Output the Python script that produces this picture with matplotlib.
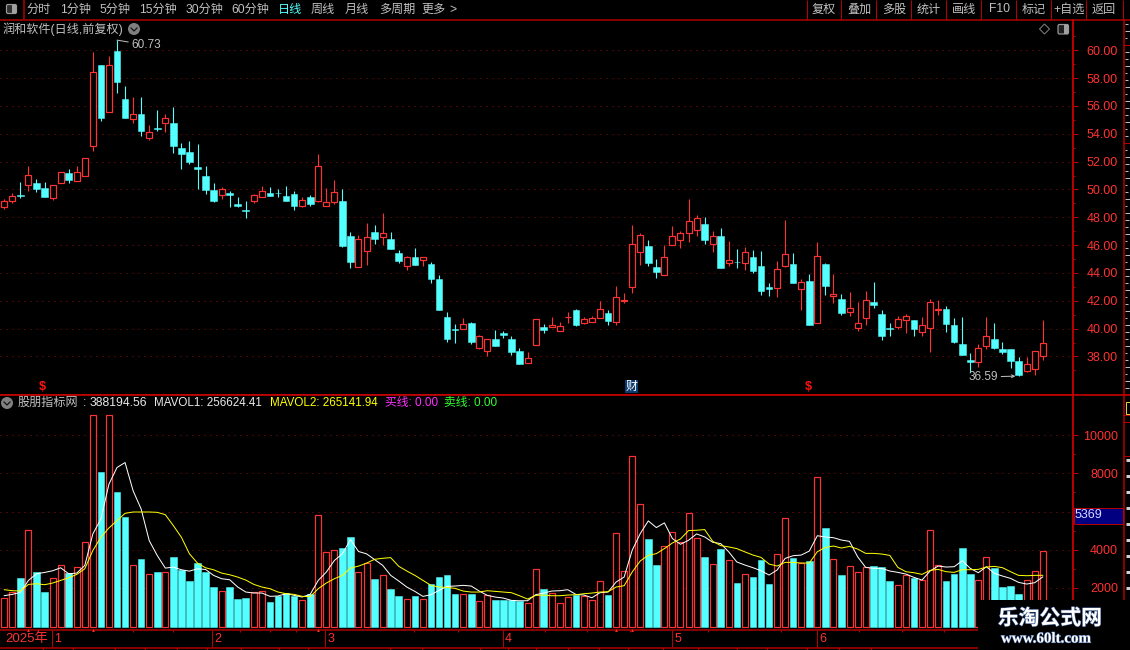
import matplotlib
matplotlib.use("Agg")
import matplotlib.pyplot as plt
import matplotlib.patheffects as pe
from matplotlib.patches import Rectangle, Circle, FancyBboxPatch, Polygon
from matplotlib.transforms import blended_transform_factory

plt.rcParams['font.family'] = ['Liberation Sans', 'Noto Sans CJK SC', 'DejaVu Sans']

opens = [48.72,49.2,49.6,50.35,50.47,50.11,49.42,50.45,51.19,50.64,
 50.95,53.1,58.95,55.6,59.95,56.5,55.09,55.43,53.73,54.42,
 54.8,54.78,52.98,52.7,51.62,50.97,49.97,49.58,49.78,48.97,
 48.55,49.2,49.44,49.75,49.78,49.54,49.68,48.84,49.46,49.2,
 48.84,49.13,49.17,46.66,44.46,45.56,46.97,46.56,46.47,45.46,
 44.48,45.17,44.9,44.67,43.6,40.86,40,39.98,40.43,38.64,
 38.42,39.28,39.67,39.28,38.42,37.51,38.8,40.15,40.15,39.86,
 40.82,41.37,40.43,40.46,40.79,41.15,40.46,41.97,42.97,45.49,
 45.96,44.46,43.83,46,46.35,46.85,47.07,47.55,46.06,46.68,
 44.7,44.82,44.72,45.17,44.53,43.02,42.9,44.48,44.67,42.83,
 43.45,40.38,44.67,42.33,42.16,41.22,40.02,40.74,41.94,41.08,
 40.07,40.14,40.6,40.6,39.76,40.02,41.32,41.44,40.29,38.93,
 37.78,37.62,38.74,39.28,38.55,38.57,37.71,36.95,37.08,38.02]
highs = [49.3,49.73,50.55,51.69,50.76,50.55,50.35,51.24,51.47,51.69,
 52.24,59.88,58.95,59.6,60.73,57.41,56.62,56.62,54.61,55.69,
 55.43,55.9,53.32,53.49,53.27,51.69,50.47,50.16,49.9,49.46,
 49.18,49.68,50.25,50.18,50.04,50.25,49.9,49.49,49.58,52.55,
 50.09,50.68,50.04,46.95,46.73,47.62,47.45,48.31,46.97,45.65,
 45.22,45.8,45.15,44.8,43.88,41.22,40.3,40.8,40.5,39.57,
 39.28,39.93,39.86,39.5,38.64,38.35,40.7,40.36,40.86,40.5,
 41.22,41.44,40.86,40.93,42,41.37,43.1,42.59,47.47,46.87,
 46.4,45.03,46.04,47.4,47.04,49.34,48.19,48.05,47.04,47.26,
 46.32,45.75,45.89,45.68,45.6,43.3,44.89,47.83,45.46,43.6,
 43.95,46.25,44.74,43.95,42.52,42.66,41.94,42.73,43.38,41.37,
 40.43,40.93,41.08,40.6,40.81,42.1,42.05,41.6,40.79,40.86,
 38.28,38.93,40.86,40.43,39.07,38.57,37.93,37.93,38.42,40.6]
lows = [48.58,49.06,49.4,49.92,49.85,49.49,49.27,50.45,50.49,50.64,
 50.95,52.79,54.95,55.6,56.96,55.14,54.8,53.85,53.58,54.18,
 54.1,52.65,51.5,51.83,50.01,49.68,49.1,49.32,48.75,48.72,
 47.95,49.06,49.44,49.56,49.46,49.18,48.53,48.75,48.84,49.1,
 48.84,48.96,45.89,44.36,44.46,44.6,46.1,46,45.75,44.74,
 44.2,44.6,44.53,43.3,41.37,39.07,39,39.98,38.92,38.56,
 38,38.78,39.35,38.13,37.49,37.51,38.8,39.71,40.15,39.86,
 40.43,40.22,40.36,40.46,40.79,40.29,40.29,41.87,42.59,44.6,
 44.53,43.67,43.83,46,45.82,46.25,46.68,46.1,45.53,44.38,
 44.53,44.38,44.24,44.02,42.44,42.37,42.3,44.41,43.3,41.37,
 40.29,40.38,42.44,41.87,41,40.93,39.86,40.29,41.51,39.21,
 39.5,40,39.71,39.5,39.5,38.35,41,39.79,39,38.14,
 36.92,37.28,38.57,38.57,38.2,37.14,36.59,36.87,36.7,37.78]
closes = [49.15,49.51,49.52,51.02,50,49.49,50.35,51.24,50.68,51.24,
 52.24,58.42,55.16,58.92,57.73,55.14,55.4,54.23,54.11,54.35,
 55.11,53.13,52.55,51.98,51.47,49.97,49.18,50.01,49.63,48.82,
 48.48,49.58,49.87,49.56,49.72,49.18,48.82,49.22,48.96,51.67,
 49.08,49.8,45.96,44.79,46.42,46.59,46.47,46.87,45.75,44.89,
 45.15,44.6,45.12,43.6,41.37,39.28,39.93,40.34,39.07,39.5,
 39.28,38.78,39.57,38.35,37.49,37.92,40.7,39.93,40.29,40.22,
 40.87,40.29,40.7,40.77,41.41,40.58,42.28,42.09,46.08,46.73,
 44.74,44.1,45.15,46.66,46.87,47.74,47.95,46.4,46.66,44.38,
 44.96,44.77,45.51,44.17,42.73,42.87,44.29,45.37,43.3,43.35,
 40.29,45.22,43.09,42.52,41.15,41.49,40.41,42.06,41.72,39.5,
 39.98,40.7,40.91,40,40.29,41.92,41.38,40.36,39.07,38.14,
 37.59,38.62,39.48,38.64,38.33,37.71,36.7,37.47,38.4,39]
volumes = [1477,1790,2488,5033,2802,1756,2523,3203,2750,3098,
 4405,11060,8083,11060,7037,5730,3203,3481,2732,2802,
 2837,3638,2941,2331,3272,2802,2017,1843,2017,1390,
 1442,1790,1843,1233,1582,1738,1582,1372,1686,5817,
 3882,3987,4109,4684,2837,3307,2439,2684,1912,1544,
 1421,1544,1421,2175,2544,2649,1649,1684,1649,1316,
 1597,1333,1333,1368,1281,1211,3000,1912,1737,1211,
 1526,1614,1579,1368,2368,1597,4894,2895,8893,6368,
 4543,3175,4210,4947,4403,5947,4631,3596,3263,4017,
 3473,2228,2737,2560,3470,2192,3750,5640,3557,3277,
 3400,7792,5132,3487,2665,3120,2805,3085,3137,3085,
 2350,2122,2665,2507,2385,5010,3172,2350,2717,4082,
 2717,2385,3592,3032,2035,2087,1667,2385,2857,3907]
mavol1 = [1582,1651,1756,2383,2732,2802,2889,3046,2732,2767,
 3168,4824,5608,7438,8310,8571,7090,6131,4475,3690,
 3029,3080,2941,2871,2993,2959,2645,2471,2418,2035,
 1773,1721,1721,1547,1564,1686,1599,1512,1651,2383,
 2819,3429,3778,4527,3900,3778,3473,3175,2649,2351,
 2035,1807,1544,1632,1860,2070,2088,2123,2088,1825,
 1597,1509,1456,1333,1316,1316,1632,1719,1825,1842,
 1895,1649,1614,1474,1737,1772,2298,2561,3965,4841,
 5508,5157,5403,4578,4280,4491,4824,4666,4385,4315,
 3877,3350,3190,3050,2892,2665,2927,3540,3680,3715,
 3925,4730,4660,4625,4502,4432,3627,3067,3015,3015,
 2875,2805,2717,2542,2402,2875,3137,3085,3102,3417,
 3015,2787,3102,2752,2612,2490,2280,2192,2262,2566]
mavol2 = [1895,1843,1826,2174,2209,2157,2244,2383,2523,2697,
 2994,3952,4649,5137,5520,5904,5974,5974,5974,5957,
 5834,5259,4649,3778,3290,3046,2941,2767,2680,2558,
 2401,2174,2035,1948,1773,1686,1651,1547,1529,1948,
 2244,2471,2645,3029,3133,3290,3491,3544,3579,3123,
 2877,2649,2386,2123,2035,2017,1965,1825,1772,1772,
 1842,1807,1772,1737,1579,1404,1597,1614,1579,1579,
 1614,1632,1684,1719,1772,1789,2035,2105,2824,3403,
 3701,3789,4052,4350,4561,4999,5017,5052,4438,4210,
 4140,4052,3880,3715,3592,3242,3137,3330,3330,3295,
 3295,3890,4117,4187,4082,4170,4030,3802,3802,3767,
 3697,3067,2840,2787,2700,2910,2962,2840,2805,2945,
 2945,2962,3085,3120,3050,2840,2647,2630,2647,2651]

price_ticks = [38,40,42,44,46,48,50,52,54,56,58,60]
price_minor = [37,39,41,43,45,47,49,51,53,55,57,59,61]
vol_ticks = [2000,4000,6000,8000,10000]
vol_tick_labels = ['2000','4000','','8000','10000']
vol_minor = [3000,5000,7000,9000]
month_labels = ['1','2','3','4','5','6']
month_pos = [5.9,25.8,39.9,61.9,83.0,101.0]
week_pos = [16,20.9,29.3,33,36.2,50.9,56.4,67.2,72.4,77.7,87.4,96.5,106.2,111.5,116.7]
flag_pos = [3,11,39,76,78]

W, H = 1130, 650
DPI = 100
BG = '#000000'
RED = '#ff3232'
CYAN = '#54ffff'
LINE = '#b40000'
GRID = '#8c1010'
GREY = '#c0c0c0'
PX = 72 / DPI

fig = plt.figure(figsize=(W / DPI, H / DPI), dpi=DPI, facecolor=BG)

def make_axes(x0, y0, x1, y1):
    return fig.add_axes([x0 / W, 1 - y1 / H, (x1 - x0) / W, (y1 - y0) / H])

# ---- price panel
ax = make_axes(0, 19.5, 1073, 394.5)
vol = make_axes(0, 394.5, 1073, 630)
xlim = (-4.3 / 8.05, (1073 - 4.3) / 8.05)

for a in (ax, vol):
    a.set_facecolor(BG)
    a.set_xlim(*xlim)
    a.yaxis.tick_right()
    for s in ('left', 'top'):
        a.spines[s].set_visible(False)
    a.spines['right'].set_color(LINE)
    a.spines['right'].set_linewidth(2 * PX)
    a.spines['bottom'].set_color(LINE)
    a.spines['bottom'].set_linewidth(1.5 * PX)
    a.set_axisbelow(True)

ax.set_ylim(35.27, 62.21)
ax.set_yticks(price_ticks, [f'{v:.2f}' for v in price_ticks])
ax.set_yticks(price_minor, minor=True)
ax.set_xticks([])
vol.set_ylim(-220, 12142)
vol.set_yticks(vol_ticks, vol_tick_labels)
vol.set_yticks(vol_minor, minor=True)
vol.set_xticks(week_pos, [''] * len(week_pos))
vol.set_xticks(month_pos, minor=True)

for a in (ax, vol):
    a.tick_params(axis='y', which='major', length=4.7 * PX, width=1 * PX, color=LINE,
                  labelcolor=RED, labelsize=9, pad=29, labelright=True)
    a.tick_params(axis='y', which='minor', length=2.4 * PX, width=1 * PX, color=LINE)
    for t in a.get_yticklabels():
        t.set_ha('right')
    a.grid(axis='y', which='major', color=GRID, linewidth=1 * PX, linestyle=(0, (1, 5)))
vol.tick_params(axis='x', which='major', length=2.5 * PX, width=1 * PX, color=LINE)
vol.tick_params(axis='x', which='minor', length=17 * PX, width=1 * PX, color=LINE)
vol.xaxis.grid(False)

# ---- candles
for i, (o, h, l, c) in enumerate(zip(opens, highs, lows, closes)):
    up = c >= o
    col = RED if up else CYAN
    ax.vlines(i, l, h, color=col, linewidth=1.1 * PX, zorder=2).set_snap(True)
    low_b, high_b = min(o, c), max(o, c)
    if up:
        ax.bar(i, high_b - low_b, bottom=low_b, width=6 / 8.05, facecolor=BG,
               edgecolor=col, linewidth=1.2 * PX, zorder=3, snap=True)
    else:
        ax.bar(i, high_b - low_b, bottom=low_b, width=6.6 / 8.05, facecolor=col,
               edgecolor=col, linewidth=0.5 * PX, zorder=3, snap=True)

# ---- volume bars
VOL_FLOOR = -60
for i, v in enumerate(volumes):
    up = closes[i] >= opens[i]
    if up:
        vol.bar(i, v - VOL_FLOOR, bottom=VOL_FLOOR, width=6 / 8.05, facecolor=BG,
                edgecolor=RED, linewidth=1.2 * PX, zorder=3, snap=True)
    else:
        vol.bar(i, v - VOL_FLOOR, bottom=VOL_FLOOR, width=6.6 / 8.05, facecolor=CYAN,
                edgecolor=CYAN, linewidth=0.5 * PX, zorder=3, snap=True)
xs = list(range(len(mavol1)))
vol.plot(xs, mavol1, color='#ffffff', linewidth=1 * PX, zorder=4)
vol.plot(xs, mavol2, color='#ffff00', linewidth=1 * PX, zorder=4)
vol.plot(flag_pos, [-220] * len(flag_pos), linestyle='none', marker='^', markersize=2,
         markeredgewidth=0, color=RED, clip_on=False, zorder=5)

# ---- overlay in pixel coordinates
ov = fig.add_axes([0, 0, 1, 1], zorder=5)
ov.set_xlim(0, W)
ov.set_ylim(H, 0)
ov.axis('off')
ov.patch.set_alpha(0)

def label(x, y, s, color=GREY, size=8.7, ha='left', **kw):
    return ov.text(x, y, s, color=color, fontsize=size, ha=ha, va='center', **kw)

def hline(y, x0=0, x1=W, color=LINE, lw=1.5):
    ov.plot([x0, x1], [y, y], color=color, linewidth=lw * PX, solid_capstyle='butt')

def vline(x, y0, y1, color=LINE, lw=1.5):
    ov.plot([x, x], [y0, y1], color=color, linewidth=lw * PX, solid_capstyle='butt')

# toolbar
hline(19.5)
hline(394.5, lw=1.6, color='#d00000')
hline(647.5, x1=978)
vline(23.5, 0, 19)
for x, s, c in [(39, '分时', GREY), (76, '1分钟', GREY), (115, '5分钟', GREY), (158, '15分钟', GREY),
                (204, '30分钟', GREY), (250, '60分钟', GREY), (290, '日线', CYAN), (323, '周线', GREY),
                (357, '月线', GREY), (397, '多周期', GREY), (434, '更多', GREY), (453, '>', GREY),
                (824, '复权', GREY), (859, '叠加', GREY), (894, '多股', GREY), (929, '统计', GREY),
                (964, '画线', GREY), (999, 'F10', GREY), (1034, '标记', GREY), (1069, '+自选', GREY),
                (1104, '返回', GREY)]:
    label(x, 9.5, s, color=c, ha='center')
for x in [807, 841, 876, 911, 946, 981, 1016, 1051, 1086, 1123]:
    vline(x, 0, 19, lw=1)
ov.add_patch(FancyBboxPatch((6.5, 4.5), 10, 9, boxstyle='round,pad=0,rounding_size=1.5',
                            facecolor='#303030', edgecolor='#9a9a9a', linewidth=1.2 * PX))
ov.add_patch(Rectangle((12, 5), 4, 8, facecolor='#a0a0a0', edgecolor='none'))

# title row
label(3, 29, '润和软件(日线,前复权)')
ov.add_patch(Circle((134, 29), 6, facecolor='#808080', edgecolor='none'))
ov.plot([131, 134, 137], [28, 31, 28], color='#101010', linewidth=1.2 * PX)
ov.add_patch(Polygon([(1044.5, 24), (1049.5, 29), (1044.5, 34), (1039.5, 29)], closed=True,
                     facecolor='none', edgecolor='#808080', linewidth=1 * PX))
ov.add_patch(FancyBboxPatch((1058, 24.5), 10.5, 9.5, boxstyle='round,pad=0,rounding_size=1.5',
                            facecolor='#202020', edgecolor='#9a9a9a', linewidth=1.2 * PX))
ov.add_patch(Rectangle((1063.5, 25), 4.5, 8.5, facecolor='#a0a0a0', edgecolor='none'))

# high / low annotations
ax.annotate('60.73', xy=(14, 60.73), xytext=(131, 45), textcoords=ov.transData, color=GREY, fontsize=8.5,
            va='center', ha='left', annotation_clip=False,
            arrowprops=dict(arrowstyle='-', color=GREY, linewidth=1 * PX, shrinkA=0, shrinkB=0))
ax.annotate('36.59', xy=(125.6, 36.59), xytext=(969, 377), textcoords=ov.transData, color=GREY, fontsize=8.5,
            va='center', ha='left', annotation_clip=False,
            arrowprops=dict(arrowstyle='->', color=GREY, linewidth=1 * PX, shrinkA=0, shrinkB=0,
                            mutation_scale=5))

# event markers
label(42.5, 387, '$', color='#ff1010', size=9, ha='center', fontweight='bold')
label(808.5, 387, '$', color='#ff1010', size=9, ha='center', fontweight='bold')
ov.add_patch(Rectangle((625, 380), 13, 13, facecolor='#0a3a70', edgecolor='none'))
label(631.5, 386.5, '财', color='#ffffff', size=8.7, ha='center')

# indicator legend
ov.add_patch(Circle((7, 403), 6, facecolor='#808080', edgecolor='none'))
ov.plot([4, 7, 10], [402, 405, 402], color='#101010', linewidth=1.2 * PX)
label(18, 403, '股朋指标网')
label(83, 403, ':')
label(90, 403, '388194.56', color='#e8e8e8')
label(154, 403, 'MAVOL1: 256624.41', color='#e8e8e8', size=8.35)
label(270, 403, 'MAVOL2: 265141.94', color='#ffff00', size=8.35)
label(385, 403, '买线: 0.00', color='#ff30ff', size=8.5)
label(444, 403, '卖线: 0.00', color='#30ff30', size=8.5)

# date row
label(5, 639, '2025年', color=RED, size=9.5)
tr = blended_transform_factory(vol.transData, ov.transData)
for p, m in zip(month_pos, month_labels):
    vol.text(p + 0.25, 639, m, color=RED, fontsize=9, ha='left', va='center', transform=tr, clip_on=False)
for x in [43, 73, 115, 145, 177, 207, 241, 279, 308, 390, 422, 480, 508, 536, 568, 599, 628, 663,
          698, 737, 767, 807, 839, 871]:
    vline(x, 647.5, 650, lw=1)

# selected value tag
ov.add_patch(Rectangle((1074, 507.5), 48.5, 16, facecolor='#000080', edgecolor=LINE, linewidth=1 * PX))
label(1075, 515.5, '5369', color='#d8d8ff', size=9)

# right side strip
vline(1123.5, 19, 650, lw=1.5)
for y in [45, 142.7, 394, 415, 421.7, 456]:
    hline(y, 1123, W, lw=1)
pattern = [3, 5, 2, 6, 4, 3, 5, 2]
for n, y in enumerate(range(24, 392, 7)):
    if abs(y - 142) > 3 and abs(y - 45) > 3:
        hline(y, 1125, 1125 + pattern[n % 8], color='#bdbdbd', lw=1)
for n, y in enumerate(range(460, 600, 16)):
    hline(y, 1126, 1130, color='#d0d0d0', lw=3)
ov.add_patch(Rectangle((1125.5, 402), 5, 12, facecolor='none', edgecolor='#e0d030', linewidth=1 * PX))

# watermark
ov.add_patch(Rectangle((978, 600), 152, 50, facecolor='#000000', edgecolor='none', zorder=8))
t1 = ov.text(1050, 618, '乐淘公式网', color='#ffffff', fontsize=15, fontweight='bold', ha='center', va='center',
             family=['Noto Sans CJK SC', 'DejaVu Sans'], zorder=9)
t2 = ov.text(1046, 639, 'www.60lt.com', color='#ffffff', fontsize=10.8, fontweight='bold', ha='center', va='center',
             family=['Liberation Serif', 'DejaVu Serif'], zorder=9)
for t in (t1, t2):
    t.set_path_effects([pe.withStroke(linewidth=0.8, foreground='#3a5a90')])

fig.savefig('out.png', dpi=DPI, facecolor=BG)
